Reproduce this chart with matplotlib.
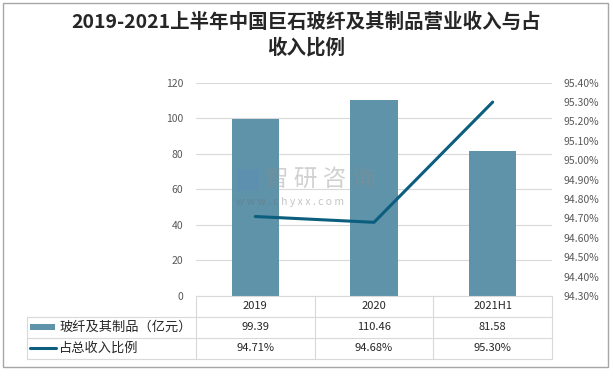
import matplotlib
matplotlib.use("Agg")
import matplotlib.pyplot as plt
from matplotlib.patches import Rectangle
from matplotlib.lines import Line2D
import matplotlib.transforms as mtrans

plt.rcParams['font.family'] = ['Noto Sans CJK SC', 'DejaVu Sans']

categories = ["2019", "2020", "2021H1"]
revenue = [99.39, 110.46, 81.58]
share = [94.71, 94.68, 95.30]
revenue_labels = ["99.39", "110.46", "81.58"]
share_labels = ["94.71%", "94.68%", "95.30%"]
series_names = ["玻纤及其制品（亿元）", "占总收入比例"]
title = "2019-2021上半年中国巨石玻纤及其制品营业收入与占\n收入比例"

W, H = 613, 377
fig = plt.figure(figsize=(W / 100, H / 100), dpi=100)

bar_color = "#5E93A9"
line_color = "#0B5E7E"
grid_color = "#D9D9D9"
text_color = "#595959"

def fx(px):
    return px / W

def fy(py):
    return 1 - py / H

left, right, top, bottom = 196, 552, 82.7, 296
ax = fig.add_axes([fx(left), fy(bottom), fx(right) - fx(left), fy(top) - fy(bottom)])
x = list(range(len(categories)))
ax.bar(x, revenue, width=0.4, color=bar_color, zorder=2)
ax.set_xlim(-0.5, len(categories) - 0.5)
ax.set_ylim(0, 120)
ax.set_yticks(range(0, 121, 20))
ax.yaxis.grid(True, color=grid_color, linewidth=0.8)
ax.set_axisbelow(True)
for s in ax.spines.values():
    s.set_visible(False)
ax.set_xticks([])
ax.tick_params(axis='y', length=0, labelsize=7.5, labelcolor=text_color, pad=9)

ax2 = ax.twinx()
ax2.plot(x, share, color=line_color, linewidth=2.2, zorder=3, solid_capstyle='round')
ax2.set_ylim(94.30, 95.40)
ticks = [94.30 + 0.1 * i for i in range(12)]
ax2.set_yticks(ticks)
ax2.set_yticklabels([f"{t:.2f}%" for t in ticks])
for s in ax2.spines.values():
    s.set_visible(False)
ax2.tick_params(axis='y', length=0, labelsize=7.5, labelcolor=text_color, pad=8)
ax2.set_xlim(-0.5, len(categories) - 0.5)

# Title
fig.text(0.5, fy(35), title, ha='center', va='center', fontsize=14, fontweight='bold',
         color="#262626", linespacing=1.3)

# Watermark
fig.text(fx(265), fy(180), "智 研 咨 询", fontsize=17, color="#8C8C8C", alpha=0.4,
         ha='left', va='center', zorder=10)
fig.text(fx(236), fy(202), "w w w . c h y x x . c o m", fontsize=7.5, color="#6E6E6E",
         alpha=0.4, ha='left', va='center', zorder=10)
fig.add_artist(Rectangle((fx(237), fy(191)), fx(22) - fx(0), fy(0) - fy(22),
                         transform=fig.transFigure, facecolor="#5B8DB8", alpha=0.35,
                         edgecolor='none', zorder=10))

# Table
tr = mtrans.blended_transform_factory(ax.transData, fig.transFigure)
row_y = [296, 316.5, 337.5, 358.5]
tleft = 27
lw = 0.8
fig.add_artist(Line2D([fx(left), fx(right)], [fy(row_y[0])] * 2, color=grid_color, lw=lw))
for ry in row_y[1:]:
    fig.add_artist(Line2D([fx(tleft), fx(right)], [fy(ry)] * 2, color=grid_color, lw=lw))
n = len(categories)
for i in range(n + 1):
    xx = -0.5 + i
    fig.add_artist(Line2D([xx, xx], [fy(row_y[0]), fy(row_y[3])], color=grid_color, lw=lw,
                          transform=tr))
fig.add_artist(Line2D([fx(tleft), fx(tleft)], [fy(row_y[1]), fy(row_y[3])], color=grid_color, lw=lw))

def mid(a, b):
    return fy((a + b) / 2)

for i, c in enumerate(categories):
    fig.text(i, mid(row_y[0], row_y[1]), c, transform=tr, ha='center', va='center',
             fontsize=8, color="#262626")
    fig.text(i, mid(row_y[1], row_y[2]), revenue_labels[i], transform=tr, ha='center',
             va='center', fontsize=8, color="#262626")
    fig.text(i, mid(row_y[2], row_y[3]), share_labels[i], transform=tr, ha='center',
             va='center', fontsize=8, color="#262626")

fig.patches.append(Rectangle((fx(30), fy(329.5)), fx(25), fy(0) - fy(6), transform=fig.transFigure,
                             facecolor=bar_color, edgecolor='none'))
fig.add_artist(Line2D([fx(30), fx(56)], [fy(348)] * 2, color=line_color, lw=2.2,
                      solid_capstyle='round'))
fig.text(fx(59), mid(row_y[1], row_y[2]), series_names[0], ha='left', va='center',
         fontsize=9.5, color="#262626")
fig.text(fx(59), mid(row_y[2], row_y[3]), series_names[1], ha='left', va='center',
         fontsize=9.5, color="#262626")

fig.patches.append(Rectangle((fx(3), fy(367)), fx(605), fy(0) - fy(364), transform=fig.transFigure,
                             facecolor='none', edgecolor="#A6A6A6", lw=1))

fig.savefig("out.png", dpi=100, facecolor='white')
